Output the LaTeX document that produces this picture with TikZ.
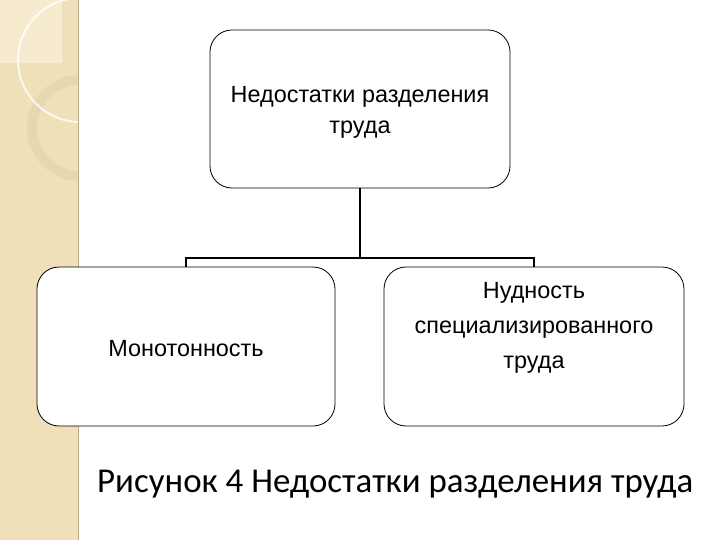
\documentclass[tikz,border=0pt]{standalone}
\usepackage{fontspec}
\setmainfont{Liberation Sans}
\newfontfamily\capfont{Carlito}
\definecolor{strip}{HTML}{EFE0BA}
\definecolor{stripl}{HTML}{F6EBCF}
\definecolor{ringc}{HTML}{E3D6AE}
\tikzset{
  box/.style={draw=black, line width=0.8bp, fill=white, rounded corners=22bp},
  boxtext/.style={align=center, inner sep=0pt, font=\fontsize{23.5}{32}\selectfont},
  conn/.style={line width=2bp}
}
\begin{document}
\begin{tikzpicture}[x=1bp,y=-1bp]
\useasboundingbox (0,0) rectangle (720,540);
\fill[white] (0,0) rectangle (720,540);
% decorative strip
\begin{scope}
\clip (0,0) rectangle (78,540);
\fill[strip] (0,0) rectangle (78,540);
\fill[stripl] (0,0) rectangle (62,63);
\draw[ringc, line width=10bp, opacity=0.8] (80,128) circle (48);
\draw[white, line width=2bp, opacity=0.8] (80,60) circle (62);
\end{scope}
\draw[ringc!80!black, line width=0.4bp] (78,0) -- (78,540);
% boxes
\node[box, minimum width=300bp, minimum height=158bp] (top) at (360,109) {};
\node[box, minimum width=298bp, minimum height=159bp] (left) at (186,346.5) {};
\node[box, minimum width=300bp, minimum height=159bp] (right) at (534,346.5) {};
\node[boxtext, font=\fontsize{23.5}{31}\selectfont] (toptext) at (360,112) {Недостатки разделения\\труда};
\node[boxtext] (lefttext) at (186,349) {Монотонность};
\node[boxtext, font=\fontsize{23.5}{35}\selectfont] (righttext) at (534,328) {Нудность\\специализированного\\труда};
\coordinate (j) at (360,258);
\draw[conn] (top.south) -- (j);
\draw[conn] (left.north) -- (186,258) -- (534,258) -- (right.north);
% caption
\node[font=\capfont\fontsize{35}{38}\selectfont, anchor=west, inner sep=0pt] (cap) at (97,484) {Рисунок 4 Недостатки разделения труда};
\end{tikzpicture}
\end{document}
